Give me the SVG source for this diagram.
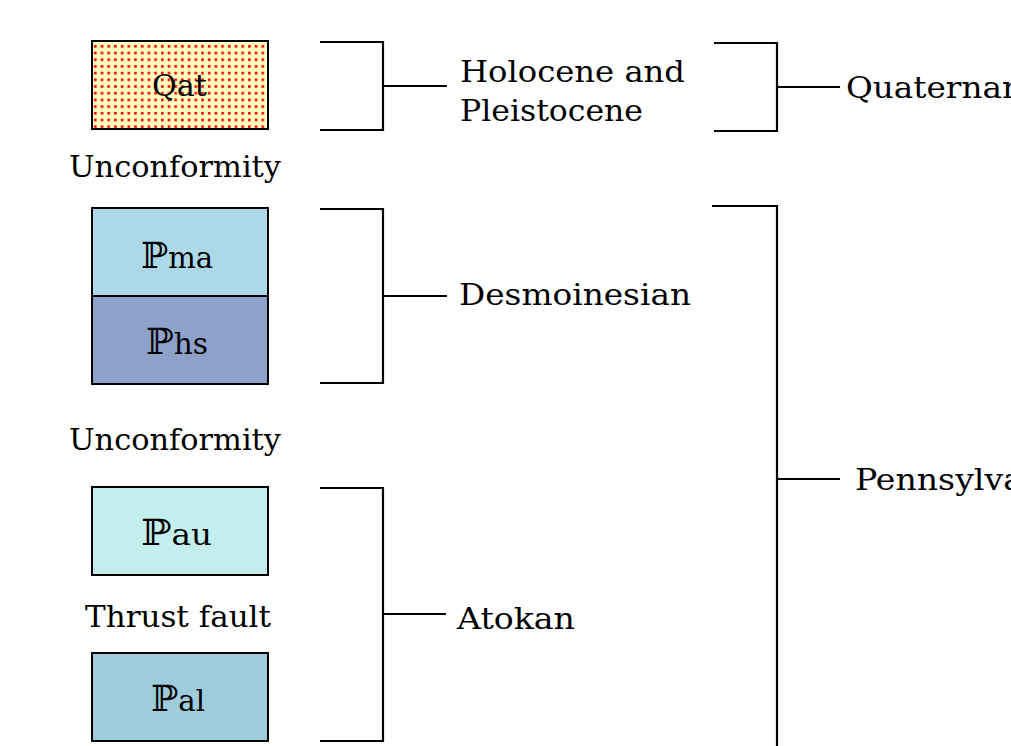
<svg xmlns="http://www.w3.org/2000/svg" width="1011" height="746" viewBox="0 0 1011 746">
<defs>
<pattern id="dots" x="93" y="44" width="6.7" height="6.7" patternUnits="userSpaceOnUse">
<rect width="6.7" height="6.7" fill="#FFFFC0"/>
<rect x="1" y="1" width="2.6" height="2.6" fill="#FF0000"/>
</pattern>
<style>
text{font-family:"DejaVu Serif","Liberation Serif",serif;font-size:29px;fill:#000}
.bp{font-size:36px}
.box{stroke:#000;stroke-width:2}
.br{fill:none;stroke:#000;stroke-width:2.2}
</style>
</defs>
<rect width="1011" height="746" fill="#fff"/>
<g id="qat"><rect class="box" x="92" y="41" width="176" height="88" fill="url(#dots)"/><text x="152" y="96" textLength="55" lengthAdjust="spacingAndGlyphs">Qat</text></g>
<g id="pma"><rect class="box" x="92" y="208" width="176" height="88" fill="#ADD8E8"/><text x="141" y="268" textLength="72" lengthAdjust="spacingAndGlyphs"><tspan class="bp">ℙ</tspan>ma</text></g>
<g id="phs"><rect class="box" x="92" y="296" width="176" height="88" fill="#8DA1C9"/><text x="146" y="354" textLength="62" lengthAdjust="spacingAndGlyphs"><tspan class="bp">ℙ</tspan>hs</text></g>
<g id="pau"><rect class="box" x="92" y="487" width="176" height="88" fill="#C4EEEE"/><text x="141" y="545" textLength="71" lengthAdjust="spacingAndGlyphs"><tspan class="bp">ℙ</tspan>au</text></g>
<g id="pal"><rect class="box" x="92" y="653" width="176" height="88" fill="#9FCCDA"/><text x="151" y="711" textLength="54" lengthAdjust="spacingAndGlyphs"><tspan class="bp">ℙ</tspan>al</text></g>
<g id="labels">
<text x="69" y="177" textLength="212" lengthAdjust="spacingAndGlyphs">Unconformity</text>
<text x="69" y="450" textLength="212" lengthAdjust="spacingAndGlyphs">Unconformity</text>
<text x="85" y="627" textLength="186" lengthAdjust="spacingAndGlyphs">Thrust fault</text>
</g>
<g id="holocene"><text x="460" y="82" textLength="225" lengthAdjust="spacingAndGlyphs">Holocene and</text><text x="460" y="121" textLength="183" lengthAdjust="spacingAndGlyphs">Pleistocene</text></g>
<g id="desmoinesian"><text x="459" y="305" textLength="232" lengthAdjust="spacingAndGlyphs">Desmoinesian</text></g>
<g id="atokan"><text x="457" y="629" textLength="118" lengthAdjust="spacingAndGlyphs">Atokan</text></g>
<g id="quaternary"><text x="846" y="98" textLength="190" lengthAdjust="spacingAndGlyphs">Quaternary</text></g>
<g id="pennsylvanian"><text x="855" y="490" textLength="241" lengthAdjust="spacingAndGlyphs">Pennsylvanian</text></g>
<g id="connectors">
<path class="br" d="M320 42H383V130H320M383 86H447"/>
<path class="br" d="M320 209H383V383H320M383 296H447"/>
<path class="br" d="M320 488H383V741H320M383 614H446"/>
<path class="br" d="M714 43H777V131H714M777 87H840"/>
<path class="br" d="M712 206H777V750M777 479H840"/>
</g>
</svg>
